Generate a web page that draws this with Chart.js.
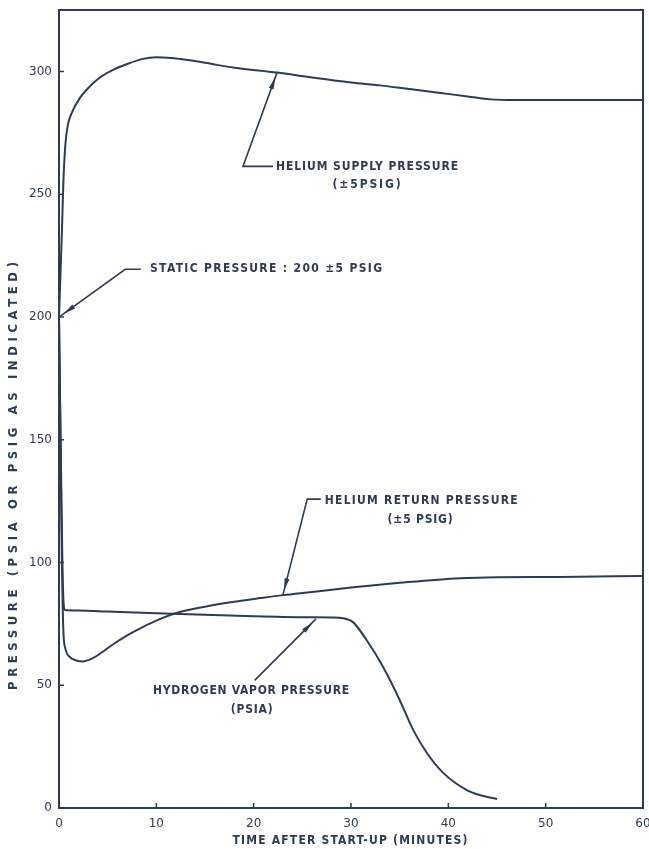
<!DOCTYPE html>
<html>
<head>
<meta charset="utf-8">
<script src="https://cdn.jsdelivr.net/npm/chart.js@4/dist/chart.umd.min.js"></script>
<style>
  body { margin: 0; background: #fff; }
  canvas { display: block; }
</style>
</head>
<body>
<canvas id="myChart" width="649" height="849"></canvas>
<script>
// values (time in minutes, pressure in psi)
var supplyTime = [0, 0.3, 0.45, 0.65, 0.9, 1.3, 2.2, 3.2, 4.2, 5.5, 7, 8.5, 10, 11.5, 12.5, 15, 18, 22.4, 26, 30, 33, 36, 39.2, 42, 44.3, 47, 50, 55, 60];
var supplyPsig = [200, 235, 255, 270, 278, 283, 289.5, 294, 297.5, 300.5, 303, 305, 305.8, 305.5, 305, 303.5, 301.5, 299.5, 297.5, 295.5, 294.3, 292.8, 291.2, 289.8, 288.6, 288.3, 288.3, 288.3, 288.3];

var returnTime = [0, 0.15, 0.3, 0.45, 0.65, 1.1, 1.7, 2.5, 3.2, 3.9, 5.5, 7.6, 10.4, 12.4, 15, 18, 20.7, 23, 26, 30, 35, 41.2, 45, 51.5, 60];
var returnPsig = [200, 150, 100, 72, 65, 61.5, 60.2, 59.7, 60.5, 62, 66.5, 71.6, 77, 79.8, 82, 84, 85.5, 86.7, 88, 89.8, 91.7, 93.6, 94, 94.1, 94.5];

var hydrogenTime = [0, 0.2, 0.35, 0.45, 0.6, 2, 5, 10, 15, 20, 25, 28, 29.2, 30.2, 31.6, 33.3, 35, 36.4, 37.8, 39.5, 41.9, 43.5, 45];
var hydrogenPsia = [200, 140, 100, 85, 80.6, 80.4, 80, 79.3, 78.7, 78.1, 77.7, 77.6, 77.3, 75.7, 68.4, 57.4, 44, 31.7, 22.4, 14.2, 7.3, 5, 3.7];

var xTicks = [0, 10, 20, 30, 40, 50, 60];
var yTicks = [0, 50, 100, 150, 200, 250, 300];

var xTitle = 'TIME AFTER START-UP (MINUTES)';
var yTitle = 'PRESSURE (PSIA OR PSIG AS INDICATED)';

var ink = '#2e3b57';

// callouts: leader path in data units (last point is the arrow tip)
var notes = [
    { path: [[22.0, 261.3], [18.9, 261.3], [22.4, 299.5]],
      lines: [['HELIUM SUPPLY PRESSURE', 22.3, 261.3, 182, 'left'], ['(\u00b15PSIG)', 31.6, 253.6, 68, 'center']] },
    { path: [[8.4, 219.4], [6.8, 219.4], [0.1, 200.2]],
      lines: [['STATIC PRESSURE : 200 \u00b15 PSIG', 9.35, 219.4, 232, 'left']] },
    { path: [[26.9, 125.8], [25.5, 125.8], [23.0, 86.7]],
      lines: [['HELIUM RETURN PRESSURE', 27.3, 125.0, 193, 'left'], ['(\u00b15 PSIG)', 37.1, 117.2, 65, 'center']] },
    { path: [[20.1, 52.0], [26.4, 77.0]],
      lines: [['HYDROGEN VAPOR PRESSURE', 9.66, 47.6, 196, 'left'], ['(PSIA)', 19.8, 39.9, 42, 'center']] }
];

function pairs(xs, ys) {
    var out = [];
    for (var i = 0; i < xs.length; i++) {
        out.push({ x: xs[i], y: ys[i] });
    }
    return out;
}

// draw text stretched to a target width with letter spacing
function spacedText(ctx, text, x, y, width, align) {
    ctx.letterSpacing = '0px';
    var w = ctx.measureText(text).width;
    var sp = (width - w) / Math.max(text.length - 1, 1);
    if (sp < 0) sp = 0;
    ctx.letterSpacing = sp + 'px';
    var left = align == 'center' ? x - width / 2 : x;
    ctx.textAlign = 'left';
    ctx.fillText(text, left, y);
    ctx.letterSpacing = '0px';
}

var decor = {
    id: 'decor',
    afterDraw: function (chart) {
        var ctx = chart.ctx;
        var a = chart.chartArea;
        var xs = chart.scales.x, ys = chart.scales.y;
        ctx.save();
        ctx.strokeStyle = ink;
        ctx.fillStyle = ink;
        ctx.lineWidth = 2;
        ctx.strokeRect(a.left, a.top, a.right - a.left, a.bottom - a.top);

        // inward tick stubs
        ctx.beginPath();
        yTicks.forEach(function (v) {
            var py = ys.getPixelForValue(v);
            ctx.moveTo(a.left, py);
            ctx.lineTo(a.left + 5, py);
        });
        xTicks.forEach(function (v) {
            var px = xs.getPixelForValue(v);
            ctx.moveTo(px, a.bottom);
            ctx.lineTo(px, a.bottom - 5);
        });
        ctx.lineWidth = 1.5;
        ctx.stroke();

        // callouts
        ctx.font = 'bold 12px "DejaVu Sans Condensed", "DejaVu Sans", sans-serif';
        ctx.textBaseline = 'middle';
        notes.forEach(function (n) {
            var pts = n.path.map(function (p) {
                return [xs.getPixelForValue(p[0]), ys.getPixelForValue(p[1])];
            });
            ctx.beginPath();
            ctx.moveTo(pts[0][0], pts[0][1]);
            for (var i = 1; i < pts.length; i++) ctx.lineTo(pts[i][0], pts[i][1]);
            ctx.lineWidth = 1.6;
            ctx.stroke();

            var tip = pts[pts.length - 1], prev = pts[pts.length - 2];
            var dx = tip[0] - prev[0], dy = tip[1] - prev[1];
            var len = Math.sqrt(dx * dx + dy * dy);
            var ux = dx / len, uy = dy / len;
            var hx = tip[0] - ux * 5, hy = tip[1] - uy * 5;
            var bx = tip[0] - ux * 17, by = tip[1] - uy * 17;
            ctx.beginPath();
            ctx.moveTo(hx, hy);
            ctx.lineTo(bx - uy * 2.5, by + ux * 2.5);
            ctx.lineTo(bx + uy * 2.5, by - ux * 2.5);
            ctx.closePath();
            ctx.fill();

            n.lines.forEach(function (l) {
                spacedText(ctx, l[0], xs.getPixelForValue(l[1]), ys.getPixelForValue(l[2]), l[3], l[4]);
            });
        });

        // axis titles
        ctx.font = 'bold 12px "DejaVu Sans Condensed", "DejaVu Sans", sans-serif';
        spacedText(ctx, xTitle, 350, 841, 235, 'center');
        ctx.font = 'bold 13px "DejaVu Sans Condensed", "DejaVu Sans", sans-serif';
        ctx.translate(14, 476);
        ctx.rotate(-Math.PI / 2);
        spacedText(ctx, yTitle, 0, 0, 428, 'center');
        ctx.restore();
    }
};

var lineStyle = {
    borderColor: ink,
    borderWidth: 2,
    pointRadius: 0,
    fill: false,
    cubicInterpolationMode: 'monotone'
};

var ctx = document.getElementById('myChart').getContext('2d');
var chart = new Chart(ctx, {
    type: 'line',
    data: {
        datasets: [
            Object.assign({ label: 'Helium supply pressure', data: pairs(supplyTime, supplyPsig) }, lineStyle),
            Object.assign({ label: 'Helium return pressure', data: pairs(returnTime, returnPsig) }, lineStyle),
            Object.assign({ label: 'Hydrogen vapor pressure', data: pairs(hydrogenTime, hydrogenPsia) }, lineStyle)
        ]
    },
    options: {
        responsive: false,
        animation: false,
        devicePixelRatio: 1,
        layout: { padding: { top: 10, right: 6, left: 0, bottom: 0 } },
        plugins: { legend: { display: false }, tooltip: { enabled: false } },
        scales: {
            x: {
                type: 'linear',
                min: 0,
                max: 60,
                grid: { display: false, drawTicks: false },
                border: { display: false },
                afterBuildTicks: function (s) { s.ticks = xTicks.map(function (v) { return { value: v }; }); },
                afterFit: function (s) { s.height = 41; s.paddingLeft = 0; s.paddingRight = 0; },
                ticks: { padding: 9, color: ink, font: { family: 'DejaVu Sans', size: 12 }, maxRotation: 0 }
            },
            y: {
                type: 'linear',
                min: 0,
                max: 325,
                grid: { display: false, drawTicks: false },
                border: { display: false },
                afterBuildTicks: function (s) { s.ticks = yTicks.map(function (v) { return { value: v }; }); },
                afterFit: function (s) { s.width = 59; s.paddingTop = 0; s.paddingBottom = 0; },
                ticks: { padding: 7, color: ink, font: { family: 'DejaVu Sans', size: 12 } }
            }
        }
    },
    plugins: [decor]
});
</script>
</body>
</html>
